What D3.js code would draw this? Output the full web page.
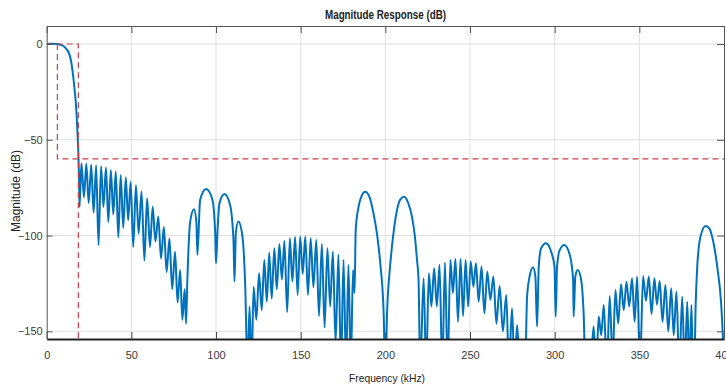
<!DOCTYPE html>
<html>
<head>
<meta charset="utf-8">
<script src="https://d3js.org/d3.v7.min.js"></script>
<style>
body { margin: 0; background: #fff; }
text { font-family: "Liberation Sans", Arial, sans-serif; }
</style>
</head>
<body>
<svg width="726" height="385"></svg>
<script>
// magnitude response as [kHz, dB] vertices
// (nulls that fall below the axis are given as -170 and get clipped)
var passband = [[0,0],[2,0.1],[4,0.1],[6,0],[8,-0.4],[10,-1.2],[11.5,-2.5],[13.2,-4.9],[14.3,-8.5],
    [15.2,-13.6],[16.5,-24],[17.5,-34.4],[18.1,-44.9],[18.7,-57],[19.1,-70],[19.4,-85]];

var sidelobes50 = [[20.5,-62.3],[22,-80],[23.4,-62.5],[24.8,-83],[26.3,-63],[27.7,-88],[29.2,-63.3],
    [30.6,-105],[32.1,-63.8],[33.5,-85],[35,-64.5],[36.4,-93],[37.9,-65.8],[39.3,-89],[40.8,-66.6],
    [42.3,-101],[43.7,-68.4],[45.2,-96],[46.7,-69.6],[48.1,-92],[49.6,-71.9],[51.1,-106],[52.7,-73.8],
    [54.3,-99],[56,-77],[57.7,-113],[59.3,-80.5],[61,-106],[62.6,-85],[64.2,-103],[65.9,-90],
    [67.5,-112],[69.2,-95.5],[70.8,-119],[72.5,-101.5],[74.1,-128],[75.8,-108.5],[77.3,-135],
    [78.8,-118],[80.1,-144],[81.5,-128],[82.3,-146]];

var lobes100 = [[83,-125],[84.7,-93],[87,-86.3],[88.4,-93],[89,-110],[90.6,-81.4],[94.1,-75.7],
    [97.9,-81.4],[99.5,-98.8],[100,-114.5],[101,-95.3],[102,-83.2],[105,-78.3],[108.3,-84],
    [110.3,-102.3],[110.9,-124],[111.7,-98.8],[113.2,-92.7],[115.6,-100.6],[117.2,-125],[118.6,-170]];

var sidelobes150 = [[119.8,-137],[121,-170],[122.2,-126.7],[123.8,-144],[125.4,-119.7],[127,-139],
    [128.5,-112.7],[130,-134.5],[131.4,-109],[132.9,-133],[134.4,-106.6],[135.9,-128],[137.4,-104.4],
    [138.9,-123],[140.4,-102.8],[142,-140],[143.6,-101.4],[145.1,-124],[146.7,-100.8],[148.2,-131],
    [149.7,-100.6],[151.2,-120],[152.7,-100.6],[154.3,-131],[155.9,-101.4],[157.5,-127],[159.2,-102.3],
    [160.8,-142],[162.5,-104.4],[164.1,-148],[165.8,-106.6],[167.4,-137],[169,-108.4],[170.6,-156],
    [172.3,-110],[173.8,-170],[175.3,-112.7],[176.8,-170],[178.2,-115.3],[179.6,-170],[180.9,-118],
    [181.8,-130]];

var lobes200 = [[182.5,-97],[184.2,-84.9],[186.2,-78.9],[188.1,-77.1],[190.5,-79.5],[193,-88.4],
    [195.2,-100],[197,-114.5],[199,-140.6],[200,-175],[201,-140.6],[202.6,-118],[203.9,-105.8],
    [206.9,-86.6],[208.8,-81.2],[211.2,-79.7],[213.5,-83],[215.7,-90.1],[217.4,-100],[218.7,-112.7],
    [219.6,-123]];

var sidelobes250 = [[220.6,-170],[222.6,-122.3],[224.1,-170],[225.7,-119.7],[227.2,-137],[228.8,-117],
    [230.4,-137],[232,-115.3],[233.6,-170],[235.2,-114.1],[236.8,-170],[238.4,-112.7],[239.9,-130],
    [241.4,-112.2],[242.9,-145],[244.4,-112.2],[245.9,-142],[247.4,-112.7],[248.9,-137],[250.4,-113.6],
    [252,-126.7],[253.5,-114.5],[255.1,-134.5],[256.8,-116.2],[258.5,-140.6],[260.2,-118.8],[262,-133.6],
    [263.8,-121.4],[265.6,-146],[267.5,-126.3],[269.4,-150],[271.4,-131],[273,-170],[274.8,-138],
    [276.3,-170],[277.8,-146.7],[279.5,-170],[281,-160],[282.5,-170]];

var lobes300 = [[283.7,-131.9],[285.2,-121.4],[287.2,-116.6],[288.6,-121.4],[289.6,-147.5],[290.6,-116.2],
    [292,-106.6],[294.9,-104],[297.9,-108.4],[299.9,-116.2],[300.6,-142.3],[301.4,-116.2],[303,-107.5],
    [305.7,-104.9],[308.9,-110],[310.9,-123],[311.2,-142.3],[312.2,-121.4],[313.6,-118],[315.6,-123],
    [317.1,-140.6],[318.2,-170]];

var sidelobes350 = [[321,-170],[323,-147.5],[324.5,-170],[326,-142.3],[327.5,-152],[329,-136.2],
    [330.8,-170],[332.5,-131.5],[334.2,-165],[335.9,-128.4],[337.5,-146],[339.2,-125.4],[340.8,-139],
    [342.4,-124.1],[344,-137],[345.7,-122.3],[347.2,-145],[348.7,-121.4],[350.4,-170],[352.2,-121.1],
    [353.9,-134],[355.6,-121.4],[357.2,-141],[358.9,-122.3],[360.4,-136],[362,-123.7],[363.7,-145],
    [365.4,-125.8],[367.1,-150],[368.8,-127.5],[370.3,-152],[371.9,-129.3],[373.6,-170],[375.3,-131.9],
    [376.8,-170],[378.3,-134.5],[379.5,-170],[380.8,-136.2],[381.6,-170]];

var lobe400 = [[382.4,-170],[383.3,-135],[384.2,-116.2],[386.1,-100.6],[389.1,-95],[391.5,-96.5],
    [393,-100.6],[396,-116.2],[398.3,-135.3],[400,-165]];

// specification mask (red dashed)
var maskPass = [[0,0],[18.7,0],[18.7,-154]];
var maskStop = [[6.3,0],[6.3,-60],[400,-60]];

var xTicks = [0,50,100,150,200,250,300,350,400];
var yTicks = [0,-50,-100,-150];

var response = [].concat(passband, sidelobes50, lobes100, sidelobes150, lobes200,
    sidelobes250, lobes300, sidelobes350, lobe400);

var svg = d3.select('svg');
var box = {l: 46.7, r: 724, t: 26, b: 339};

var x = d3.scaleLinear().domain([0, 400]).range([box.l, box.r]);
var y = d3.scaleLinear().domain([-154, 9.4]).range([box.b, box.t]);

svg.append('defs').append('clipPath').attr('id', 'plotClip')
    .append('rect')
    .attr('x', box.l).attr('y', box.t)
    .attr('width', box.r - box.l).attr('height', box.b - box.t);

// grid
var grid = svg.append('g').attr('class', 'grid');
grid.selectAll('.gx').data(xTicks.slice(1, -1)).enter().append('line')
    .attr('x1', function(d) { return x(d); }).attr('x2', function(d) { return x(d); })
    .attr('y1', box.t).attr('y2', box.b);
grid.selectAll('.gy').data(yTicks).enter().append('line')
    .attr('x1', box.l).attr('x2', box.r)
    .attr('y1', function(d) { return y(d); }).attr('y2', function(d) { return y(d); });
grid.selectAll('line').attr('stroke', '#e0e0e0').attr('stroke-width', 1);

// response curve
var line = d3.line()
    .x(function(d) { return x(d[0]); })
    .y(function(d) { return y(d[1]); })
    .curve(d3.curveMonotoneX);

svg.append('path')
    .datum(response)
    .attr('clip-path', 'url(#plotClip)')
    .attr('d', line)
    .attr('fill', 'none')
    .attr('stroke', '#0072bd')
    .attr('stroke-width', 2)
    .attr('stroke-linejoin', 'round');

// mask lines
var maskLine = d3.line()
    .x(function(d) { return x(d[0]); })
    .y(function(d) { return y(d[1]); });

svg.selectAll('.mask').data([maskPass, maskStop]).enter().append('path')
    .attr('class', 'mask')
    .attr('d', maskLine)
    .attr('fill', 'none')
    .attr('stroke', '#c8414a')
    .attr('stroke-width', 1.2)
    .attr('stroke-dasharray', '6,4');

// axes
var xAxisB = d3.axisBottom(x).tickValues(xTicks).tickSizeInner(-7).tickSizeOuter(0).tickPadding(12);
var xAxisT = d3.axisTop(x).tickValues(xTicks).tickSizeInner(-7).tickSizeOuter(0).tickFormat('');
var yAxisL = d3.axisLeft(y).tickValues(yTicks).tickSizeInner(-6).tickSizeOuter(0).tickPadding(4);
var yAxisR = d3.axisRight(y).tickValues(yTicks).tickSizeInner(-7).tickSizeOuter(0).tickFormat('');

var gB = svg.append('g').attr('transform', 'translate(0,' + box.b + ')').call(xAxisB);
var gT = svg.append('g').attr('transform', 'translate(0,' + box.t + ')').call(xAxisT);
var gL = svg.append('g').attr('transform', 'translate(' + box.l + ',0)').call(yAxisL);
var gR = svg.append('g').attr('transform', 'translate(' + box.r + ',0)').call(yAxisR);

[gT, gL, gR].forEach(function(g) {
    g.select('.domain').attr('stroke', '#555');
    g.selectAll('.tick line').attr('stroke', '#555');
});
gB.select('.domain').attr('stroke', '#222').attr('stroke-width', 1.8);
gB.selectAll('.tick line').attr('stroke', '#444');

svg.selectAll('.tick text')
    .attr('font-size', '11px')
    .attr('font-family', '"Liberation Sans", Arial, sans-serif')
    .attr('fill', '#3a3a3a');

// titles
svg.append('text')
    .attr('x', 385.5).attr('y', 18.5)
    .attr('text-anchor', 'middle')
    .attr('font-size', '12.5px').attr('font-weight', 'bold')
    .attr('textLength', 121).attr('lengthAdjust', 'spacingAndGlyphs')
    .attr('fill', '#222')
    .text('Magnitude Response (dB)');

svg.append('text')
    .attr('x', 387).attr('y', 382)
    .attr('text-anchor', 'middle')
    .attr('font-size', '11.5px')
    .attr('textLength', 76).attr('lengthAdjust', 'spacingAndGlyphs')
    .attr('fill', '#222')
    .text('Frequency (kHz)');

svg.append('text')
    .attr('transform', 'translate(20,191) rotate(-90)')
    .attr('text-anchor', 'middle')
    .attr('font-size', '12px')
    .attr('textLength', 82).attr('lengthAdjust', 'spacingAndGlyphs')
    .attr('fill', '#222')
    .text('Magnitude (dB)');
</script>
</body>
</html>
